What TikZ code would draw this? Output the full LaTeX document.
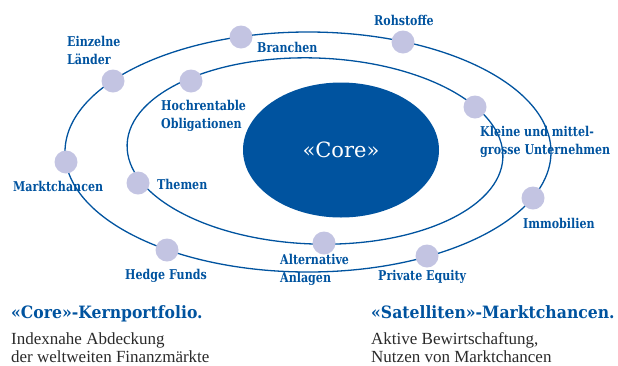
\documentclass[tikz,border=0pt]{standalone}
\usepackage{fontspec}
\setmainfont{Liberation Serif}
\newfontfamily\orbitfont[FakeStretch=0.82]{DejaVu Serif}
\newfontfamily\headfont[FakeStretch=0.92]{DejaVu Serif}
\newfontfamily\corefont{DejaVu Serif}
\usetikzlibrary{shapes.geometric}
\definecolor{orbitblue}{HTML}{00539F}
\definecolor{planetlilac}{HTML}{C3C4E2}
\definecolor{bodygray}{HTML}{2A2A2A}
\tikzset{
  orbit/.style={draw=orbitblue, line width=1.3pt},
  planet/.style={circle, fill=planetlilac, minimum size=23pt, inner sep=0pt},
  satlabel/.style={anchor=west, inner sep=0pt, align=left, text=orbitblue,
    font=\orbitfont\bfseries\fontsize{13.5}{18}\selectfont},
  headline/.style={anchor=base west, inner sep=0pt, text=orbitblue,
    font=\headfont\bfseries\fontsize{17}{20}\selectfont},
  bodytext/.style={anchor=west, inner sep=0pt, align=left, text=bodygray,
    font=\fontsize{17}{18}\selectfont}
}
\begin{document}
\begin{tikzpicture}[x=1pt,y=-1pt]
\useasboundingbox (0,0) rectangle (618,365);

% orbits
\draw[orbit] (308,152) ellipse [x radius=243pt, y radius=120pt];
\draw[orbit, rotate around={-2:(315,151)}] (315,151) ellipse [x radius=188pt, y radius=93pt];

\node[ellipse, fill=orbitblue, minimum width=196pt, minimum height=135pt, text=white,
  font=\corefont\fontsize{21}{24}\selectfont] (core) at (341,150) {«Core»};

% planets on the outer orbit
\node[planet] (laender) at (113,81) {};
\node[planet] (branchen) at (241,37) {};
\node[planet] (rohstoffe) at (403,42) {};
\node[planet] (immo) at (533,198) {};
\node[planet] (pe) at (427,256) {};
\node[planet] (hedge) at (167,250) {};
\node[planet] (markt) at (66,162) {};

% planets on the inner orbit
\node[planet] (hochrent) at (191,81) {};
\node[planet] (kmu) at (475,107) {};
\node[planet] (themen) at (138,183) {};
\node[planet] (alternativ) at (324,243) {};

% labels
\node[satlabel] (laender-t) at (67,50) {Einzelne\\Länder};
\node[satlabel] (branchen-t) at (257,47) {Branchen};
\node[satlabel] (rohstoffe-t) at (374,20) {Rohstoffe};
\node[satlabel] (hochrent-t) at (161,116) {Hochrentable\\Obligationen};
\node[satlabel] (kmu-t) at (480,142) {Kleine und mittel-\\grosse Unternehmen};
\node[satlabel] (markt-t) at (13,186) {Marktchancen};
\node[satlabel] (themen-t) at (157,184) {Themen};
\node[satlabel] (immo-t) at (523,223) {Immobilien};
\node[satlabel] (hedge-t) at (125,276) {Hedge Funds};
\node[satlabel] (alternativ-t) at (280,270) {Alternative\\Anlagen};
\node[satlabel] (pe-t) at (378,277) {Private Equity};

% captions
\node[headline] (core-h) at (11,318.5) {«Core»-Kernportfolio.};
\node[bodytext] (core-b) at (11,347.5) {Indexnahe Abdeckung\\der weltweiten Finanzmärkte};
\node[headline] (sat-h) at (371,318.5) {«Satelliten»-Marktchancen.};
\node[bodytext] (sat-b) at (371,347.5) {Aktive Bewirtschaftung,\\Nutzen von Marktchancen};
\end{tikzpicture}
\end{document}
